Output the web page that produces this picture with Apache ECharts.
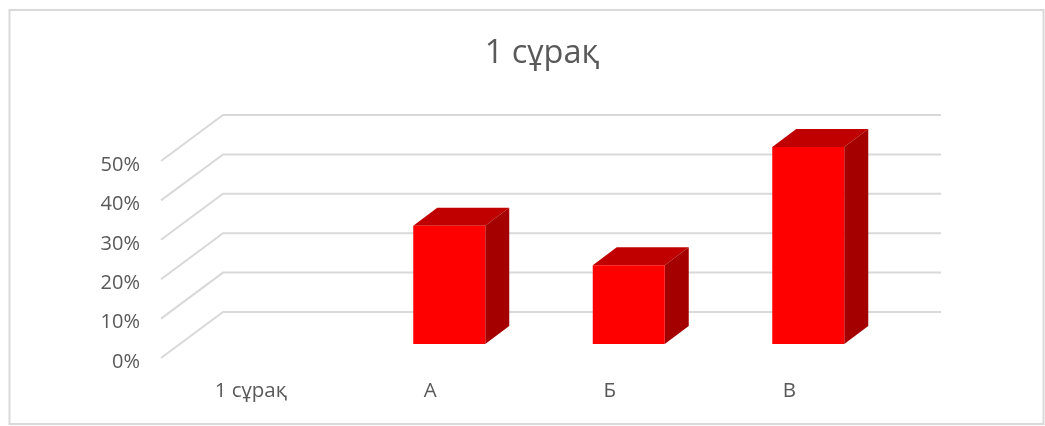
<!DOCTYPE html>
<html>
<head>
<meta charset="utf-8">
<style>
  html, body { margin: 0; padding: 0; background: #fff; }
  #chart { width: 1045px; height: 426px; }
</style>
<script src="https://cdn.jsdelivr.net/npm/echarts@6/dist/echarts.min.js"></script>
</head>
<body>
<div id="chart"></div>
<script>
const chartTitle = "1 сұрақ";
const categories = ["1 сұрақ", "А", "Б", "В"];
const barValues = [null, 30, 20, 50];
const gridTicks = [0, 10, 20, 30, 40, 50];

// 3d look: depth of the whole floor, and of a bar standing in the middle of it
const wallDx = 62, wallDy = -46;
const barShiftX = 19, barShiftY = -14;
const barDx = 24, barDy = -18;
const barWidth = 72;

let myChart = echarts.init(document.getElementById("chart"));

function renderWall(params, api) {
  let cs = params.coordSys;
  let y = api.coord([0, api.value(1)])[1];
  return {
    type: "polyline",
    shape: {
      points: [
        [cs.x, y],
        [cs.x + wallDx, y + wallDy],
        [cs.x + cs.width + wallDx, y + wallDy]
      ]
    },
    style: { fill: null, stroke: "#d9d9d9", lineWidth: 2 }
  };
}

function renderBar(params, api) {
  let value = api.value(1);
  if (isNaN(value)) return;
  let top = api.coord([api.value(0), value]);
  let base = api.coord([api.value(0), 0]);
  let x0 = top[0] + barShiftX - barWidth / 2;
  let x1 = x0 + barWidth;
  let y0 = top[1] + barShiftY;
  let y1 = base[1] + barShiftY;
  return {
    type: "group",
    children: [
      {
        type: "polygon",
        shape: { points: [[x0, y0], [x0 + barDx, y0 + barDy], [x1 + barDx, y0 + barDy], [x1, y0]] },
        style: { fill: "#c00000" }
      },
      {
        type: "polygon",
        shape: { points: [[x1, y0], [x1 + barDx, y0 + barDy], [x1 + barDx, y1 + barDy], [x1, y1]] },
        style: { fill: "#a50000" }
      },
      {
        type: "rect",
        shape: { x: x0, y: y0, width: barWidth, height: y1 - y0 },
        style: { fill: "#ff0000" }
      }
    ]
  };
}

myChart.setOption({
  animation: false,
  backgroundColor: "#fff",
  textStyle: { fontFamily: "Open Sans" },
  title: {
    text: chartTitle,
    left: 537,
    top: 32,
    textAlign: "center",
    textStyle: { color: "#595959", fontSize: 32.5, fontWeight: "normal", fontFamily: "Open Sans" }
  },
  graphic: [
    {
      type: "rect",
      silent: true,
      shape: { x: 9.5, y: 10, width: 1034, height: 414 },
      style: { fill: null, stroke: "#d9d9d9", lineWidth: 2 }
    }
  ],
  grid: { left: 161, right: 166, top: 161, bottom: 68 },
  xAxis: {
    type: "category",
    data: categories,
    axisLine: { show: false },
    axisTick: { show: false },
    axisLabel: { color: "#595959", fontSize: 20.5, margin: 23 }
  },
  yAxis: {
    type: "value",
    min: 0,
    max: 50,
    interval: 10,
    axisLine: { show: false },
    axisTick: { show: false },
    splitLine: { show: false },
    axisLabel: { color: "#595959", fontSize: 20, margin: 21, verticalAlign: "top", lineHeight: 8, formatter: "{value}%" }
  },
  series: [
    {
      type: "custom",
      name: "wall",
      silent: true,
      z: 1,
      renderItem: renderWall,
      encode: { x: 0, y: 1 },
      data: gridTicks.map(function(t) { return [0, t]; })
    },
    {
      type: "custom",
      name: "bars",
      z: 2,
      renderItem: renderBar,
      encode: { x: 0, y: 1 },
      data: barValues.map(function(v, i) { return [i, v]; })
    }
  ]
});
</script>
</body>
</html>
